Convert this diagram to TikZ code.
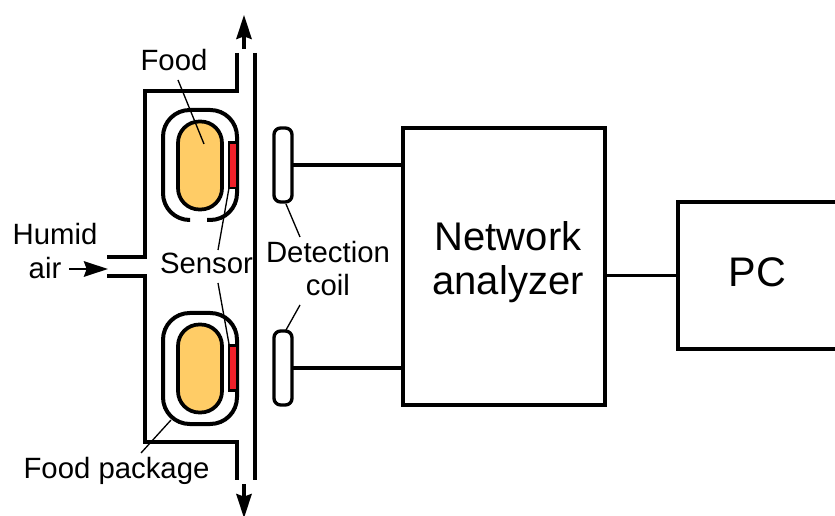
\documentclass[tikz,border=0pt]{standalone}
\usepackage{fontspec}
\setmainfont{Liberation Sans}
\usetikzlibrary{arrows.meta}
\newcommand{\fsz}[1]{\fontsize{#1}{#1}\selectfont}
\tikzset{
  x=0.75pt,y=-0.75pt,
  wall/.style={line width=3pt,line cap=butt,line join=miter},
  pack/.style={line width=3pt,rounded corners=20pt},
  foodbox/.style={draw,line width=2.8pt,fill=foodc,rounded corners=16pt,minimum width=33pt,minimum height=66pt,inner sep=0pt,outer sep=0pt},
  sensorbox/.style={draw,line width=2pt,fill=sensorc,minimum width=6pt,minimum height=34pt,inner sep=0pt,outer sep=0pt},
  coilbox/.style={draw,line width=2.5pt,fill=white,rounded corners=5pt,minimum width=13.5pt,minimum height=55.5pt,inner sep=0pt,outer sep=0pt},
  blockbox/.style={draw,line width=2.5pt,inner sep=0pt,outer sep=0pt,align=center},
  wire/.style={line width=2.5pt},
  leader/.style={line width=1pt},
  lab/.style={inner sep=0pt,outer sep=0pt,align=center,font=\fsz{22}},
  flow/.style={line width=2.6pt,-{Stealth[length=18pt,width=11.5pt,inset=2pt]}},
}
\definecolor{foodc}{HTML}{FFCC66}
\definecolor{sensorc}{HTML}{F0202A}
\begin{document}
\begin{tikzpicture}
\useasboundingbox (0,0) rectangle (835,516);
% chamber
\coordinate (wallTopEnd) at (237,53);
\coordinate (wallTopCorner) at (237,91);
\coordinate (wallLeftTop) at (144.5,91);
\coordinate (inTopIn) at (144.5,257.5);
\coordinate (inTopOut) at (107,257.5);
\coordinate (inBotOut) at (107,276);
\coordinate (inBotIn) at (144.5,276);
\coordinate (wallLeftBot) at (144.5,442);
\coordinate (wallBotCorner) at (237,442);
\coordinate (wallBotEnd) at (237,480);
\coordinate (wallRTop) at (255,53);
\coordinate (wallRBot) at (255,480);
\draw[wall] (wallTopEnd) -- (wallTopCorner) -- (wallLeftTop) -- (inTopIn) -- (inTopOut);
\draw[wall] (inBotOut) -- (inBotIn) -- (wallLeftBot) -- (wallBotCorner) -- (wallBotEnd);
\draw[wall] (wallRTop) -- (wallRBot);
% flow arrows
\coordinate (upA) at (244,49);
\coordinate (upB) at (244,15);
\coordinate (dnA) at (244,484);
\coordinate (dnB) at (244,518);
\coordinate (airA) at (69,269);
\coordinate (airB) at (108,269);
\draw[flow] (upA) -- (upB);
\draw[flow] (dnA) -- (dnB);
\draw[flow,line width=2.2pt] (airA) -- (airB);
% packages
\draw[pack] (190,220) -- (163,220) -- (163,110) -- (237,110) -- (237,220) -- (207,220);
\draw[pack] (163,313) rectangle (237,424);
% food
\node[foodbox] (foodT) at (200,165.5) {};
\node[foodbox] (foodB) at (200,368.5) {};
% sensors
\node[sensorbox] (sensT) at (233,165.5) {};
\node[sensorbox] (sensB) at (233,368) {};
% coils
\node[coilbox] (coilT) at (283,165) {};
\node[coilbox] (coilB) at (283,368) {};
% blocks
\node[blockbox,minimum width=151.5pt,minimum height=207.75pt] (net) at (504,266.5) {};
\node[blockbox,minimum width=120pt,minimum height=110.25pt,anchor=west] (pc) at (678,275.5) {};
\draw[wire] (coilT.east) -- (coilT.east -| net.west);
\draw[wire] (coilB.east) -- (coilB.east -| net.west);
\draw[wire] (net.east |- pc.west) -- (pc.west);
% labels
\node[lab,font=\fsz{30}] (lNet) at (508,262) {Network\\[3.5pt]analyzer};
\node[lab,font=\fsz{31}] (lPC) at (757.5,272) {PC};
\node[lab] (lFood) at (174,60) {Food};
\node[lab] (lSensor) at (206.5,263) {Sensor};
\node[lab] (lCoil) at (328,268.5) {Detection\\[3pt]coil};
\node[lab] (lPack) at (116.5,470.5) {Food package};
\node[lab] (lHumid) at (55,234) {Humid};
\node[lab] (lAir) at (45,268) {air};
% leaders
\coordinate (foodTip) at (204,144);
\coordinate (sensTipT) at (229,188);
\coordinate (sensTipB) at (229,344);
\coordinate (coilTipT) at (286,204);
\coordinate (coilTipB) at (286,330);
\coordinate (packTip) at (171,420);
\draw[leader] (178,80) coordinate (a1) -- (foodTip);
\draw[leader] (218,250) coordinate (a2) -- (sensTipT);
\draw[leader] (218,283) coordinate (a3) -- (sensTipB);
\draw[leader] (300,237) coordinate (a4) -- (coilTipT);
\draw[leader] (300,305) coordinate (a5) -- (coilTipB);
\draw[leader] (141,453) coordinate (a6) -- (packTip);
\end{tikzpicture}
\end{document}
